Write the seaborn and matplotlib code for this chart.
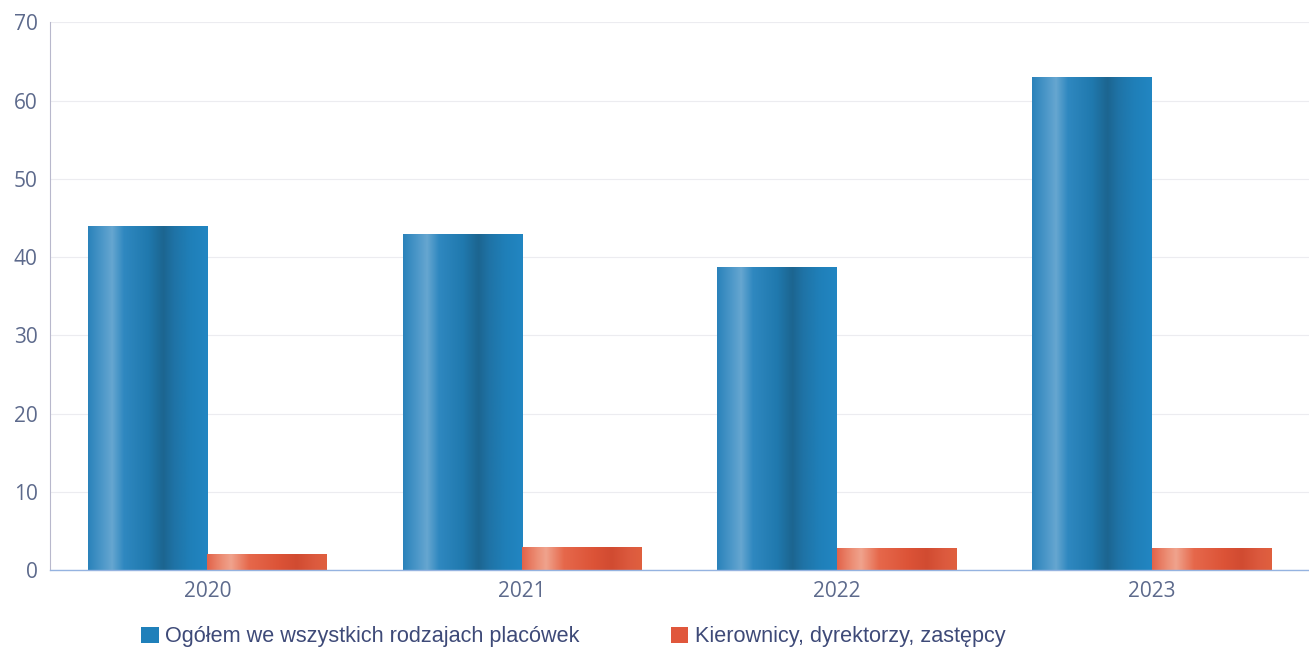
import numpy as np
import pandas as pd
import matplotlib
matplotlib.use("Agg")
import matplotlib.pyplot as plt
import seaborn as sns
from matplotlib.colors import LinearSegmentedColormap
from matplotlib.patches import Patch

# ---- data ----
years = ["2020", "2021", "2022", "2023"]
series_names = ["Ogółem we wszystkich rodzajach placówek",
                "Kierownicy, dyrektorzy, zastępcy"]
total_vals = [44.0, 43.0, 38.8, 63.0]
managers_vals = [2.1, 3.0, 2.9, 2.8]
y_ticks = [0, 10, 20, 30, 40, 50, 60, 70]

df = pd.DataFrame({
    "year": years * 2,
    "series": [series_names[0]] * 4 + [series_names[1]] * 4,
    "value": total_vals + managers_vals,
})

blue = "#1f80ba"
orange = "#e0573c"
tick_color = "#5d6a8c"

sns.set_theme(style="white")
plt.rcParams["font.family"] = ["Open Sans", "DejaVu Sans"]

fig = plt.figure(figsize=(13.09, 6.54), dpi=100)
ax = fig.add_axes([0.0382, 0.128, 0.9618, 0.838])

sns.barplot(data=df, x="year", y="value", hue="series", order=years,
            hue_order=series_names, palette=[blue, orange], width=0.76,
            dodge=True, saturation=1, ax=ax, legend=False, linewidth=0)

# cylindrical shading
blue_cmap = LinearSegmentedColormap.from_list("b", [
    (0.0, "#2a82ba"), (0.12, "#4d98c9"), (0.2, "#66a6d0"), (0.3, "#2f88c0"),
    (0.5, "#2079ae"), (0.63, "#1c6590"), (0.72, "#1f73a6"), (0.85, "#1f7fb8"),
    (1.0, "#2286c2")])
orange_cmap = LinearSegmentedColormap.from_list("o", [
    (0.0, "#e2634a"), (0.12, "#ec8d74"), (0.2, "#f0a38d"), (0.35, "#e6684b"),
    (0.6, "#dc5337"), (0.75, "#d14b31"), (0.9, "#dc5a3e"), (1.0, "#e0603f")])
grad = np.linspace(0, 1, 256).reshape(1, -1)
bars = [p for p in ax.patches if p.get_height() > 0]
for p in bars:
    x0, y0 = p.get_x(), p.get_y()
    w, h = p.get_width(), p.get_height()
    fc = p.get_facecolor()
    cmap = blue_cmap if fc[2] > fc[0] else orange_cmap
    im = ax.imshow(grad, cmap=cmap, aspect="auto",
                   extent=[x0, x0 + w, y0, y0 + h], zorder=p.get_zorder() + 0.1)
    im.set_clip_path(p)

ax.set_xlim(-0.5, 3.5)
ax.set_ylim(0, 70)
ax.set_yticks(y_ticks)
ax.set_xlabel("")
ax.set_ylabel("")
ax.yaxis.grid(True, color="#ececf0", linewidth=0.8)
ax.set_axisbelow(True)
for s in ["top", "right"]:
    ax.spines[s].set_visible(False)
ax.spines["left"].set_color("#b8b8cc")
ax.spines["left"].set_linewidth(0.8)
ax.spines["bottom"].set_color("#95b3e0")
ax.spines["bottom"].set_linewidth(1.0)
ax.tick_params(axis="both", length=0, labelsize=15, labelcolor=tick_color)
ax.tick_params(axis="y", pad=9)
ax.tick_params(axis="x", pad=8)

handles = [Patch(facecolor=blue, edgecolor="none"),
           Patch(facecolor=orange, edgecolor="none")]
fig.legend(handles, series_names, loc="center", ncol=2,
           bbox_to_anchor=(0.438, 0.026), frameon=False,
           prop={"family": "Liberation Sans", "size": 15.6},
           labelcolor="#3e4a78", handlelength=0.8, handleheight=0.8,
           handletextpad=0.3, columnspacing=4.2)

fig.savefig("out.png", dpi=100)
